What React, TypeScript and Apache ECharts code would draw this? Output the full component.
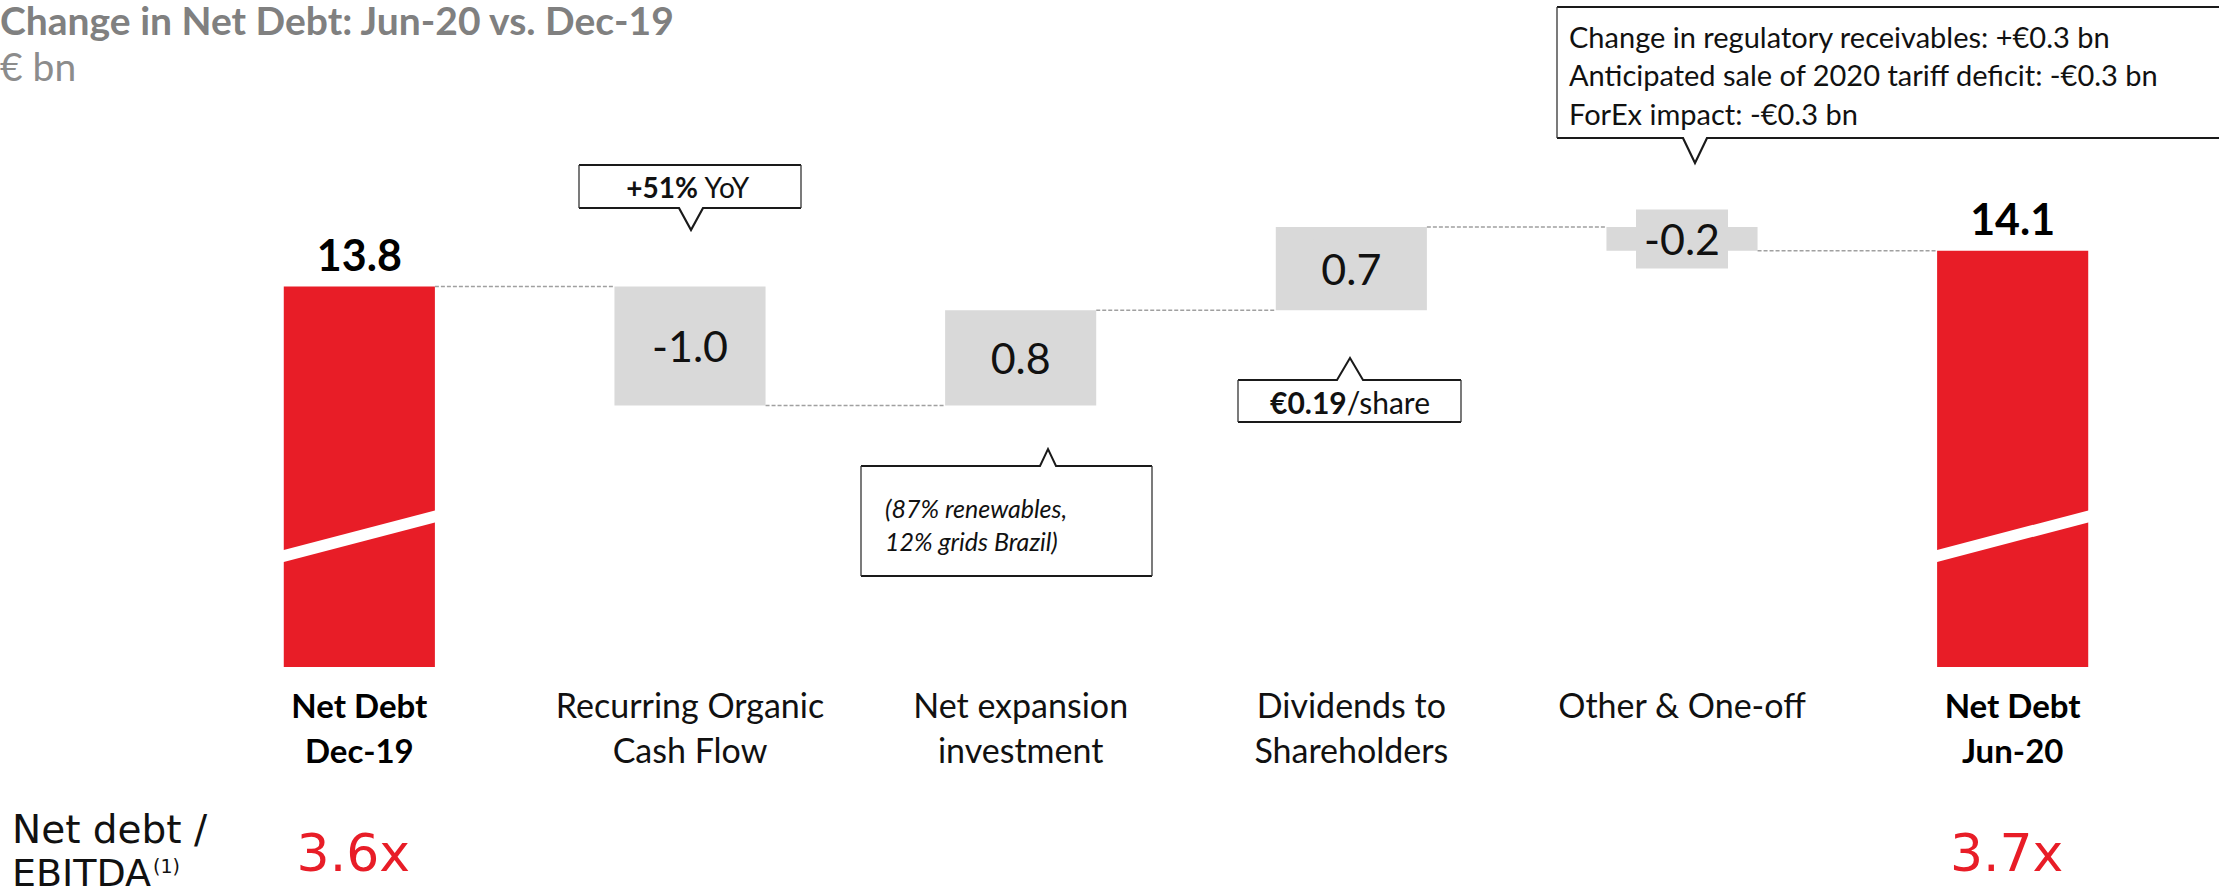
import { useEffect, useRef } from 'react';
import * as echarts from 'echarts';

// Waterfall of net debt movements, € bn
const CATEGORIES = [
  'Net Debt\nDec-19',
  'Recurring Organic\nCash Flow',
  'Net expansion\ninvestment',
  'Dividends to\nShareholders',
  'Other & One-off',
  'Net Debt\nJun-20',
];
const KINDS = ['total', 'delta', 'delta', 'delta', 'delta', 'total'];
const VALUES = [13.8, -1.0, 0.8, 0.7, -0.2, 14.1];
const LEVERAGE = ['3.6x', '', '', '', '', '3.7x'];

const TITLE = 'Change in Net Debt: Jun-20 vs. Dec-19';
const UNIT = '€ bn';
const OTHER_NOTES = [
  'Change in regulatory receivables: +€0.3 bn',
  'Anticipated sale of 2020 tariff deficit: -€0.3 bn',
  'ForEx impact: -€0.3 bn',
];
const EXPANSION_NOTES = ['(87% renewables,', '12% grids Brazil)'];

// value axis window (the total bars are drawn with a broken base)
const Y_MIN = 10.6;
const Y_MAX = 15.2;
const BREAK_AT = 11.7;

const RED = '#e81d27';
const GREY = '#d9d9d9';
const INK = '#1a1a1a';
const FONT = 'Lato, "Open Sans", sans-serif';
const GEO_FONT = '"DejaVu Sans", sans-serif';

type Row = [number, number, number, number, number];

function buildRows(): Row[] {
  let level = 0;
  return VALUES.map((v, i) => {
    if (KINDS[i] === 'total') {
      level = v;
      return [i, Y_MIN, v, v, 1] as Row;
    }
    const start = level;
    level = Math.round((level + v) * 100) / 100;
    return [i, Math.min(start, level), Math.max(start, level), level, 0] as Row;
  });
}

function renderItem(params: any, api: any) {
  const i = api.value(0);
  const low = api.value(1);
  const high = api.value(2);
  const end = api.value(3);
  const isTotal = api.value(4) === 1;
  const band = api.size([1, 0])[0];
  const w = band * 0.457;
  const pLow = api.coord([i, low]);
  const pHigh = api.coord([i, high]);
  const cx = pLow[0];
  const x0 = cx - w / 2;
  const x1 = cx + w / 2;
  const children: any[] = [
    {
      type: 'rect',
      shape: { x: x0, y: pHigh[1], width: w, height: pLow[1] - pHigh[1] },
      style: { fill: isTotal ? RED : GREY },
    },
  ];
  if (isTotal) {
    const yb = api.coord([i, BREAK_AT])[1];
    children.push({
      type: 'polygon',
      shape: {
        points: [
          [x0 - 1, yb + 14],
          [x1 + 1, yb - 26],
          [x1 + 1, yb - 14],
          [x0 - 1, yb + 26],
        ],
      },
      style: { fill: '#ffffff' },
    });
    children.push({
      type: 'text',
      style: {
        text: VALUES[i].toFixed(1),
        x: cx,
        y: pHigh[1] - 32,
        align: 'center',
        verticalAlign: 'middle',
        fontSize: 43,
        fontWeight: 'bold',
        fontFamily: FONT,
        fill: '#000',
      },
    });
    if (LEVERAGE[i]) {
      children.push({
        type: 'text',
        style: {
          text: LEVERAGE[i],
          x: cx - 6,
          y: pLow[1] + 186,
          align: 'center',
          verticalAlign: 'middle',
          fontSize: 52,
          fontFamily: GEO_FONT,
          fill: RED,
        },
      });
    }
  } else {
    children.push({
      type: 'text',
      style: {
        text: VALUES[i].toFixed(1),
        x: cx,
        y: (pLow[1] + pHigh[1]) / 2,
        align: 'center',
        verticalAlign: 'middle',
        fontSize: 43,
        fontFamily: FONT,
        fill: '#111',
        backgroundColor: GREY,
        padding: [8, 8],
      },
    });
  }
  if (i < VALUES.length - 1) {
    const yl = api.coord([i, end])[1];
    children.push({
      type: 'line',
      shape: { x1: x1, y1: yl, x2: cx + band - w / 2, y2: yl },
      style: { stroke: '#a0a0a0', lineWidth: 1.5, lineDash: [4, 2] },
    });
  }
  return { type: 'group', children };
}

function callout(
  x: number,
  y: number,
  w: number,
  h: number,
  side: 'top' | 'bottom',
  px: number,
  half: number,
  len: number,
) {
  const yb = y + h;
  const top =
    side === 'top'
      ? [[x, y], [px - half, y], [px, y - len], [px + half, y], [x + w, y]]
      : [[x, y], [x + w, y]];
  const bottom =
    side === 'bottom'
      ? [[x, yb], [px - half, yb], [px, yb + len], [px + half, yb], [x + w, yb]]
      : [[x, yb], [x + w, yb]];
  return [
    { type: 'polyline', shape: { points: top }, style: { stroke: INK, lineWidth: 2, fill: 'none' } },
    { type: 'polyline', shape: { points: bottom }, style: { stroke: INK, lineWidth: 2.2, fill: 'none' } },
    { type: 'line', shape: { x1: x, y1: y, x2: x, y2: yb }, style: { stroke: '#333', lineWidth: 1.3 } },
    { type: 'line', shape: { x1: x + w, y1: y, x2: x + w, y2: yb }, style: { stroke: '#333', lineWidth: 1.3 } },
  ];
}

function noteText(text: string, x: number, y: number, align: string, size: number, extra: any = {}) {
  return {
    type: 'text',
    x,
    y,
    style: {
      text,
      align,
      verticalAlign: 'middle',
      fontSize: size,
      fontFamily: FONT,
      fill: '#111',
      rich: { b: { fontSize: size, fontFamily: FONT, fontWeight: 'bold', fill: '#111' } },
      ...extra,
    },
  };
}

export default function App() {
  const ref = useRef<HTMLDivElement>(null);
  useEffect(() => {
    if (!ref.current) return;
    const chart = echarts.init(ref.current, undefined, { renderer: 'svg' });
    const rows = buildRows();
    chart.setOption({
      animation: false,
      grid: { left: 194, right: 41, top: 120, bottom: 227 },
      xAxis: {
        type: 'category',
        data: CATEGORIES,
        axisLine: { show: false },
        axisTick: { show: false },
        axisLabel: {
          margin: 15,
          interval: 0,
          formatter: (value: string, idx: number) => {
            const tag = KINDS[idx] === 'total' ? 'b' : 'r';
            return value
              .split('\n')
              .map((s) => `{${tag}|${s}}`)
              .join('\n');
          },
          rich: {
            b: { fontSize: 33, fontWeight: 'bold', fontFamily: FONT, color: '#000', lineHeight: 45 },
            r: { fontSize: 34, fontFamily: FONT, color: '#111', lineHeight: 45 },
          },
        },
      },
      yAxis: { type: 'value', min: Y_MIN, max: Y_MAX, show: false, splitLine: { show: false } },
      series: [
        {
          type: 'custom',
          renderItem,
          encode: { x: 0, y: [1, 2] },
          data: rows,
          z: 2,
        },
      ],
      graphic: [
        {
          type: 'text',
          x: 0,
          y: 20,
          style: {
            text: TITLE,
            verticalAlign: 'middle',
            fontSize: 39,
            fontWeight: 'bold',
            fontFamily: FONT,
            fill: '#808080',
          },
        },
        {
          type: 'text',
          x: 0,
          y: 66,
          style: { text: UNIT, verticalAlign: 'middle', fontSize: 39, fontFamily: FONT, fill: '#8c8c8c' },
        },
        // +51% YoY
        ...callout(579, 165, 222, 43, 'bottom', 691, 12, 22),
        noteText('{b|+51%} YoY', 688, 187, 'center', 28),
        // expansion split
        ...callout(861, 466, 291, 110, 'top', 1048, 8, 17),
        ...EXPANSION_NOTES.map((t, k) =>
          noteText(t, 885, 508 + k * 33, 'left', 25, { fontStyle: 'italic' }),
        ),
        // dividend per share
        ...callout(1238, 380, 223, 42, 'top', 1350, 13, 22),
        noteText('{b|€0.19}/share', 1350, 402, 'center', 30),
        // other & one-off breakdown
        ...callout(1557, 7, 700, 131, 'bottom', 1695, 12, 25),
        ...OTHER_NOTES.map((t, k) => noteText(t, 1569, 36 + k * 38.5, 'left', 29)),
        // leverage row caption
        {
          type: 'text',
          x: 12,
          y: 829,
          style: { text: 'Net debt /', verticalAlign: 'middle', fontSize: 39, fontFamily: GEO_FONT, fill: '#111' },
        },
        {
          type: 'text',
          x: 12,
          y: 873,
          style: {
            text: '{m|EBITDA}{s|(1)}',
            verticalAlign: 'middle',
            rich: {
              m: { fontSize: 38, fontFamily: GEO_FONT, fill: '#111' },
              s: { fontSize: 19, fontFamily: GEO_FONT, fill: '#111', padding: [0, 0, 14, 2] },
            },
          },
        },
      ],
    });
    return () => chart.dispose();
  }, []);
  return (
    <div
      ref={ref}
      style={{ position: 'absolute', left: 0, top: 0, width: '2219px', height: '894px', background: '#fff' }}
    />
  );
}
